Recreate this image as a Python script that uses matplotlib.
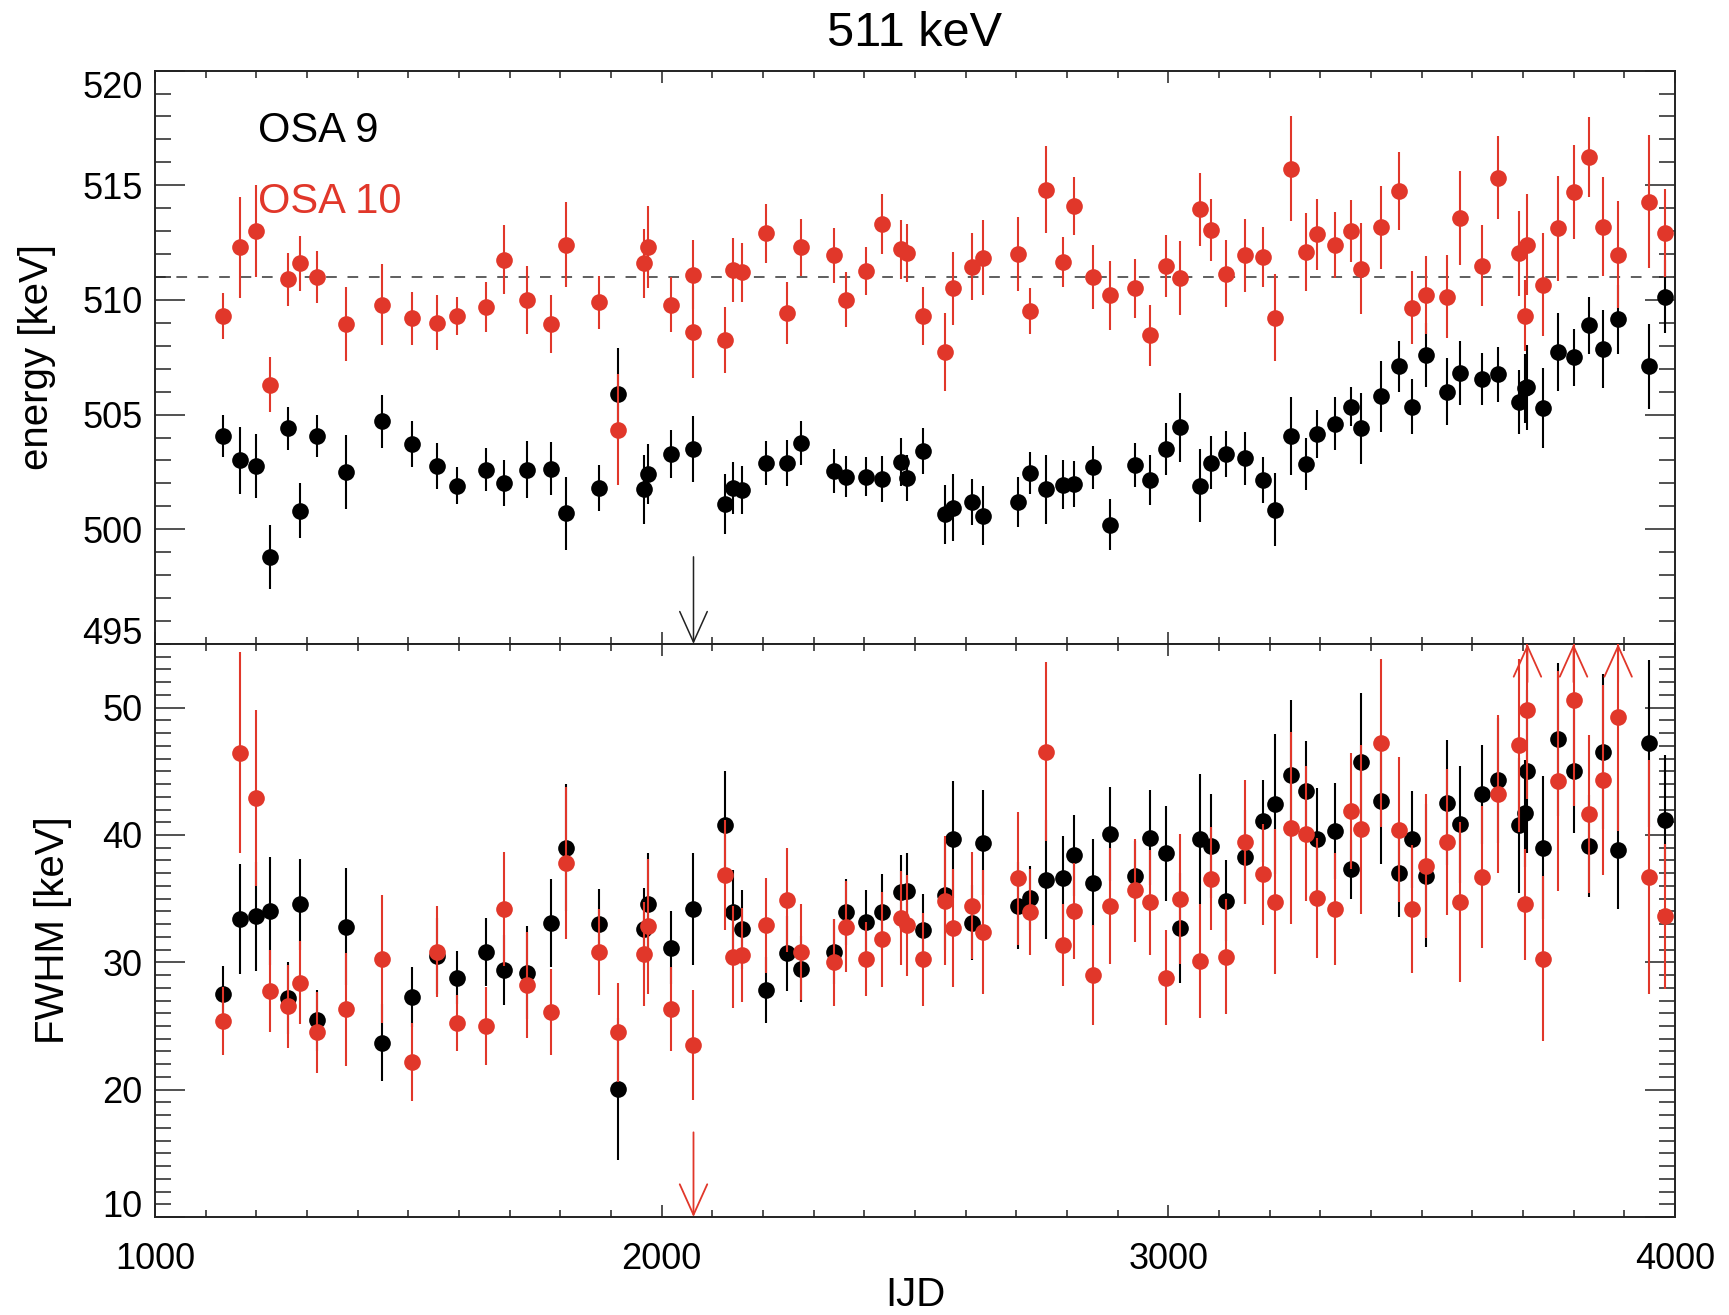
import matplotlib
matplotlib.use("Agg")
import matplotlib.pyplot as plt
from matplotlib.ticker import MultipleLocator
import numpy as np

plt.rcParams['font.family'] = ['Liberation Sans', 'DejaVu Sans']

# observation times (IJD), shared by both OSA versions
ijd = [1134, 1167, 1199, 1227, 1262, 1287, 1320, 1377, 1448, 1507,
       1556, 1597, 1654, 1689, 1734, 1782, 1811, 1876, 1914, 1966,
       1973, 2019, 2063, 2126, 2140, 2158, 2207, 2248, 2276, 2341,
       2364, 2403, 2435, 2472, 2485, 2516, 2560, 2576, 2613, 2634,
       2704, 2728, 2758, 2793, 2814, 2851, 2885, 2934, 2964, 2996,
       3024, 3063, 3085, 3115, 3152, 3188, 3211, 3242, 3272, 3293,
       3330, 3361, 3381, 3419, 3456, 3481, 3509, 3551, 3576, 3620,
       3650, 3692, 3704, 3709, 3740, 3770, 3800, 3830, 3858, 3888,
       3948, 3980]

# OSA 9 line energy [keV]
e9 = [504.07, 503.0, 502.75, 498.8, 504.4, 500.8, 504.07, 502.5, 504.7, 503.7,
      502.75, 501.9, 502.6, 502.0, 502.6, 502.65, 500.7, 501.8, 505.9, 501.75,
      502.4, 503.3, 503.5, 501.1, 501.8, 501.7, 502.9, 502.9, 503.75, 502.55,
      502.3, 502.3, 502.2, 502.95, 502.25, 503.4, 500.65, 500.95, 501.2, 500.6,
      501.2, 502.45, 501.75, 501.95, 501.98, 502.7, 500.2, 502.8, 502.15, 503.5,
      504.45, 501.9, 502.9, 503.3, 503.1, 502.15, 500.85, 504.05, 502.85, 504.15,
      504.6, 505.35, 504.4, 505.8, 507.1, 505.35, 507.6, 506.0, 506.8, 506.55,
      506.75, 505.55, 506.15, 506.2, 505.3, 507.75, 507.5, 508.9, 507.85, 509.15,
      507.1, 510.15]
e9_err = [0.9, 1.45, 1.4, 1.4, 0.95, 1.2, 0.9, 1.6, 1.15, 1.0,
          1.0, 0.8, 0.95, 1.0, 1.25, 1.15, 1.6, 1.0, 2.0, 1.5,
          1.3, 1.05, 1.45, 1.3, 1.15, 1.05, 0.95, 1.0, 0.95, 0.95,
          0.9, 0.85, 1.0, 1.05, 1.0, 1.0, 1.3, 1.45, 1.0, 1.3,
          1.1, 0.9, 1.5, 1.05, 1.0, 0.95, 1.1, 0.95, 1.1, 1.15,
          1.5, 1.6, 1.15, 1.0, 1.15, 1.0, 1.6, 1.7, 1.15, 1.05,
          1.15, 0.85, 1.55, 1.55, 1.1, 1.2, 1.4, 1.45, 1.4, 1.15,
          1.2, 1.4, 1.5, 1.85, 1.75, 1.7, 1.25, 1.25, 1.7, 1.5,
          1.85, 1.6]

# OSA 10 line energy [keV]
e10 = [509.3, 512.3, 513.0, 506.3, 510.9, 511.6, 511.0, 508.95, 509.8, 509.2,
       509.0, 509.3, 509.7, 511.75, 510.0, 508.95, 512.4, 509.9, 504.35, 511.6,
       512.3, 509.8, 511.1, 508.25, 511.3, 511.2, 512.9, 509.45, 512.3, 511.95,
       510.0, 511.25, 513.3, 512.2, 512.05, 509.3, 507.75, 510.5, 511.45, 511.85,
       512.0, 509.5, 514.8, 511.65, 514.1, 511.0, 510.2, 510.5, 508.45, 511.5,
       510.95, 513.95, 513.05, 511.15, 511.95, 511.87, 509.23, 515.73, 512.1, 512.87,
       512.4, 513.0, 511.37, 513.17, 514.73, 509.67, 510.2, 510.15, 513.57, 511.5,
       515.33, 512.03, 509.32, 512.4, 510.67, 513.12, 514.7, 516.23, 513.2, 511.98,
       514.28, 512.92]
e10_err = [1.0, 2.2, 2.0, 1.2, 1.15, 1.2, 1.15, 1.6, 1.75, 1.15,
           1.2, 0.85, 1.1, 1.5, 1.5, 1.25, 1.85, 1.15, 2.4, 1.5,
           1.8, 1.2, 1.5, 1.45, 1.4, 1.3, 1.3, 1.35, 1.25, 1.2,
           1.2, 1.05, 1.3, 1.3, 1.25, 1.25, 1.7, 1.6, 1.45, 1.65,
           1.6, 1.0, 1.9, 1.1, 1.25, 1.4, 1.5, 1.3, 1.35, 1.35,
           1.6, 1.6, 1.35, 1.45, 1.6, 1.3, 1.9, 2.3, 1.7, 1.55,
           1.45, 1.35, 2.0, 1.8, 1.7, 1.6, 1.7, 1.8, 2.05, 1.75,
           1.8, 1.85, 1.55, 2.2, 2.25, 2.3, 2.05, 1.75, 2.15, 2.35,
           2.9, 1.9]

# OSA 9 line width FWHM [keV]
w9 = [27.5, 33.4, 33.6, 34.05, 27.2, 34.55, 25.45, 32.8, 23.7, 27.3,
      30.5, 28.8, 30.8, 29.4, 29.2, 33.1, 39.0, 33.0, 20.05, 32.6,
      34.55, 31.15, 34.2, 40.8, 33.95, 32.6, 27.8, 30.7, 29.45, 30.85,
      33.95, 33.15, 33.95, 35.5, 35.6, 32.5, 35.3, 39.65, 33.1, 39.4,
      34.45, 35.05, 36.5, 36.6, 38.4, 36.25, 40.1, 36.8, 39.8, 38.55,
      32.7, 39.65, 39.15, 34.85, 38.3, 41.1, 42.45, 44.7, 43.45, 39.65,
      40.3, 37.3, 45.75, 42.65, 37.0, 39.65, 36.8, 42.55, 40.85, 43.2,
      44.3, 40.75, 41.7, 45.0, 39.0, 47.5, 45.05, 39.15, 46.55, 38.85,
      47.2, 41.15]
w9_err = [2.2, 4.3, 4.25, 4.25, 2.8, 3.6, 2.4, 4.6, 3.0, 2.35,
          3.0, 2.1, 2.65, 2.75, 3.65, 3.45, 5.0, 2.75, 5.6, 3.2,
          4.0, 2.85, 4.4, 4.2, 3.3, 3.1, 2.6, 2.95, 2.6, 2.55,
          2.6, 2.5, 3.0, 2.95, 3.0, 2.9, 4.35, 4.6, 2.95, 4.15,
          3.4, 2.5, 4.65, 3.3, 3.2, 3.4, 3.7, 2.7, 3.75, 3.75,
          4.35, 5.1, 4.1, 3.2, 3.7, 3.25, 5.5, 5.9, 3.9, 4.05,
          3.75, 2.3, 5.4, 4.95, 3.45, 3.8, 5.6, 4.9, 4.6, 3.9,
          4.9, 5.3, 4.2, 6.4, 5.6, 6.0, 4.9, 4.0, 6.1, 4.65,
          6.55, 5.15]

# OSA 10 line width FWHM [keV]
w10 = [25.4, 46.45, 42.9, 27.75, 26.55, 28.4, 24.5, 26.3, 30.25, 22.2,
       30.85, 25.25, 25.0, 34.2, 28.2, 26.1, 37.8, 30.8, 24.5, 30.65,
       32.85, 26.35, 23.5, 36.85, 30.4, 30.55, 32.9, 34.9, 30.8, 30.0,
       32.8, 30.25, 31.8, 33.5, 32.9, 30.25, 34.85, 32.7, 34.45, 32.4,
       36.6, 33.95, 46.55, 31.35, 34.05, 29.0, 34.45, 35.65, 34.7, 28.8,
       35.0, 30.1, 36.55, 30.45, 39.45, 36.9, 34.75, 40.55, 40.1, 35.05,
       34.2, 41.85, 40.45, 47.2, 40.4, 34.2, 37.55, 39.45, 34.75, 36.7,
       43.2, 47.05, 34.55, 49.8, 30.3, 44.25, 50.6, 41.65, 44.3, 49.25,
       36.7, 33.6]
w10_err = [2.65, 7.9, 6.9, 3.25, 3.25, 3.25, 3.2, 4.45, 5.0, 3.05,
           3.55, 2.2, 3.05, 4.45, 4.15, 3.4, 6.0, 3.4, 3.9, 4.1,
           5.3, 3.3, 4.3, 4.35, 4.0, 3.7, 3.7, 4.1, 3.75, 3.4,
           3.55, 2.9, 3.75, 3.7, 3.95, 3.65, 5.05, 4.6, 4.2, 4.85,
           5.2, 3.4, 7.0, 3.2, 3.75, 3.9, 4.55, 4.05, 4.15, 3.7,
           5.1, 4.45, 4.05, 4.5, 4.9, 4.0, 5.7, 7.55, 5.3, 4.7,
           4.4, 4.55, 6.65, 6.6, 5.7, 5.0, 5.65, 5.75, 6.3, 5.6,
           6.2, 6.8, 4.35, 7.0, 6.45, 8.65, 8.3, 6.2, 7.45, 8.9,
           9.2, 5.7]

# second OSA 10 energy fit at IJD 2063 (its width is only an upper limit)
e10_extra_x = [2063]
e10_extra = [508.6]
e10_extra_err = [2.0]

# limits drawn as arrows: (IJD, start value)
e9_lim = [(2063, 498.8)]
w10_lim_down = [(2063, 16.65)]
w10_lim_up = [3709, 3800, 3888]

e_ticks = [495, 500, 505, 510, 515, 520]
w_ticks = [10, 20, 30, 40, 50]

red = '#e1372a'
fig = plt.figure(figsize=(17.29, 13.15), dpi=100)
ax1 = fig.add_axes([0.0896, 0.5103, 0.8791, 0.4360])
ax2 = fig.add_axes([0.0896, 0.0745, 0.8791, 0.4358])

ekw = dict(fmt='o', ms=12, elinewidth=1.5, capsize=0, mew=0)
arr = '->,head_length=1.0,head_width=0.45'

# energy panel
ax1.axhline(511, color='#333333', lw=1.1, ls=(0, (7, 7)), zorder=1)
ax1.errorbar(ijd, e9, yerr=e9_err, color='black', zorder=3, **ekw)
ax1.errorbar(ijd, e10, yerr=e10_err, color=red, zorder=4, **ekw)
ax1.errorbar(e10_extra_x, e10_extra, yerr=e10_extra_err, color=red, zorder=4, **ekw)
for x, y in e9_lim:
    ax1.annotate('', xy=(x, 495), xytext=(x, y),
                 arrowprops=dict(arrowstyle=arr, color='#222222', lw=1.1,
                                 mutation_scale=22, shrinkA=0, shrinkB=0))
ax1.set_xlim(1000, 4000)
ax1.set_ylim(495, 520)
ax1.set_yticks(e_ticks)
ax1.yaxis.set_minor_locator(MultipleLocator(1))
ax1.tick_params(labelbottom=False)
ax1.set_ylabel('energy [keV]', fontsize=29, va='center')
ax1.yaxis.set_label_coords(-0.0776, 0.5)
ax1.text(0.0678, 0.876, 'OSA 9', transform=ax1.transAxes, fontsize=30,
         color='black', va='baseline')
ax1.text(0.0678, 0.751, 'OSA 10', transform=ax1.transAxes, fontsize=30,
         color=red, va='baseline')

# width panel
ax2.errorbar(ijd, w9, yerr=w9_err, color='black', zorder=3, **ekw)
ax2.errorbar(ijd, w10, yerr=w10_err, color=red, zorder=4, **ekw)
for x, y in w10_lim_down:
    ax2.annotate('', xy=(x, 10), xytext=(x, y),
                 arrowprops=dict(arrowstyle=arr, color=red, lw=1.3,
                                 mutation_scale=22, shrinkA=0, shrinkB=0))
for x in w10_lim_up:
    ax2.annotate('', xy=(x, 55), xytext=(x, 52),
                 arrowprops=dict(arrowstyle=arr, color=red, lw=1.3,
                                 mutation_scale=22, shrinkA=0, shrinkB=0))
ax2.set_xlim(1000, 4000)
ax2.set_ylim(10, 55)
ax2.set_yticks(w_ticks)
ax2.yaxis.set_minor_locator(MultipleLocator(1))
ax2.set_ylabel('FWHM [keV]', fontsize=29, va='center')
ax2.yaxis.set_label_coords(-0.0671, 0.5)
ax2.set_xlabel('IJD', fontsize=29, va='center')
ax2.xaxis.set_label_coords(0.5, -0.136)

for ax in (ax1, ax2):
    ax.xaxis.set_major_locator(MultipleLocator(1000))
    ax.xaxis.set_minor_locator(MultipleLocator(100))
    ax.tick_params(axis='both', which='both', direction='in', top=True,
                   right=True, width=1.1, labelsize=26, color='#222222')
    ax.tick_params(axis='y', which='major', length=21.5, pad=9)
    ax.tick_params(axis='y', which='minor', length=11.5)
    ax.tick_params(axis='x', which='major', length=8.6, pad=18)
    ax.tick_params(axis='x', which='minor', length=4.7)
    for sp in ax.spines.values():
        sp.set_linewidth(1.4)
        sp.set_color('#222222')

# keep the end labels inside the axis range, as in the original
labs = ax1.get_yticklabels()
labs[0].set_va('baseline')
labs[-1].set_va('top')
ax2.get_yticklabels()[0].set_va('baseline')

fig.text(0.5292, 1 - 33 / 1315, '511 keV', fontsize=35, ha='center', va='center')

fig.savefig('out.png', dpi=100)
